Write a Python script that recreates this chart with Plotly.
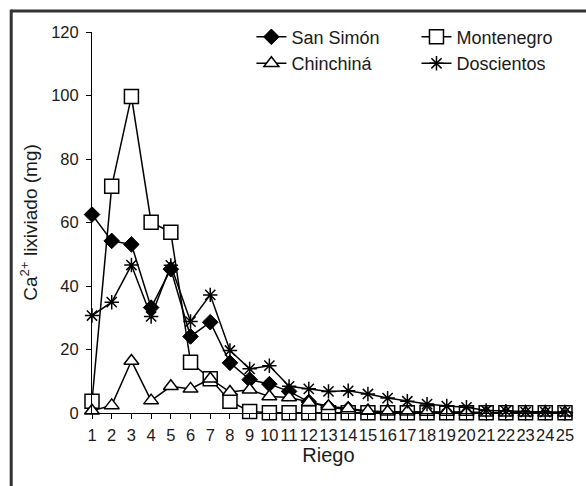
import plotly.graph_objects as go

riego = list(range(1, 26))
tick_labels = [str(i) for i in riego]

san_simon = [62.5, 54.2, 53.1, 33.2, 45.3, 24.1, 28.6, 15.8, 10.5, 9.1, 6.8, 3.5, 1.8, 1.2, 0.5,
             0.4, 0.3, 0.3, 0.2, 0.2, 0.1, 0.1, 0.1, 0.1, 0.1]
montenegro = [3.7, 71.4, 99.7, 60.1, 56.9, 16.0, 10.8, 3.7, 0.5, 0.1, 0.1, 0.1, 0.1, 0.1, 0.1,
              0.1, 0.1, 0.1, 0.1, 0.1, 0.1, 0.1, 0.1, 0.1, 0.1]
chinchina = [0.7, 2.4, 16.4, 3.9, 8.4, 7.6, 10.8, 6.6, 7.3, 5.2, 4.9, 3.4, 2.1, 1.4, 0.6,
             0.4, 0.4, 0.3, 0.3, 0.3, 0.1, 0.1, 0.1, 0.1, 0.1]
doscientos = [30.7, 34.9, 46.6, 30.4, 46.5, 28.8, 37.2, 19.7, 13.9, 14.9, 8.4, 7.6, 6.8, 7.0, 6.0,
              4.7, 3.7, 2.8, 2.2, 1.8, 0.8, 0.6, 0.3, 0.3, 0.3]

series = [
    ("San Simón", san_simon, dict(symbol="diamond", size=12, color="black",
                                  line=dict(color="black", width=1)), "legend", 1),
    ("Montenegro", montenegro, dict(symbol="square", size=14, color="white",
                                    line=dict(color="black", width=1.5)), "legend2", 1),
    ("Chinchiná", chinchina, dict(symbol="triangle-up", size=13, color="white",
                                  line=dict(color="black", width=1.5)), "legend", 2),
    ("Doscientos", doscientos, dict(symbol="asterisk-open", size=12, color="black",
                                    line=dict(color="black", width=1.5)), "legend2", 2),
]

fig = go.Figure()
for name, vals, marker, leg, rank in series:
    fig.add_trace(go.Scatter(
        x=riego, y=vals, name=name, mode="lines+markers",
        line=dict(color="black", width=1.5), marker=marker,
        cliponaxis=False, legend=leg, legendrank=rank,
        legendgroup=name,
    ))

font_family = "Liberation Sans, Arial, sans-serif"
fig.update_layout(
    width=586, height=486,
    margin=dict(l=92, r=14, t=32, b=73),
    paper_bgcolor="white", plot_bgcolor="white",
    font=dict(family=font_family, size=16, color="#1a1a1a"),
    showlegend=True,
    legend=dict(x=0.337, y=1.035, xanchor="left", yanchor="top",
                bgcolor="rgba(0,0,0,0)", font=dict(size=18),
                tracegroupgap=0, traceorder="grouped", itemwidth=30),
    legend2=dict(x=0.686, y=1.035, xanchor="left", yanchor="top",
                 bgcolor="rgba(0,0,0,0)", font=dict(size=18),
                 tracegroupgap=0, traceorder="grouped", itemwidth=30),
    xaxis=dict(
        range=[1, 25], tickmode="array", tickvals=riego, ticktext=tick_labels,
        tickangle=0,
        showline=True, linecolor="black", linewidth=1,
        ticks="outside", ticklen=5, tickcolor="black",
        showgrid=False, zeroline=False,
        tickfont=dict(size=16.5), ticklabelstandoff=2,
        title=dict(text="Riego", font=dict(size=20), standoff=0),
    ),
    yaxis=dict(
        range=[0, 120], tickvals=[0, 20, 40, 60, 80, 100, 120],
        showline=True, linecolor="black", linewidth=1,
        ticks="outside", ticklen=5, tickcolor="black",
        showgrid=False, zeroline=False,
        tickfont=dict(size=16.5), ticklabelstandoff=4,
        title=dict(text="Ca<sup>2+</sup> lixiviado (mg)", font=dict(size=19), standoff=8),
    ),
)

# outer frame: top and left edges (right and bottom fall outside the picture)
fig.add_shape(type="line", xref="paper", yref="paper",
              x0=-0.1708, x1=1.06, y0=1.055, y1=1.055,
              line=dict(color="#333333", width=3))
fig.add_shape(type="line", xref="paper", yref="paper",
              x0=-0.1708, x1=-0.1708, y0=-0.25, y1=1.059,
              line=dict(color="#333333", width=3))

fig.write_html("out.html", config={"displayModeBar": False},
               post_script="document.body.style.margin='0px';")
